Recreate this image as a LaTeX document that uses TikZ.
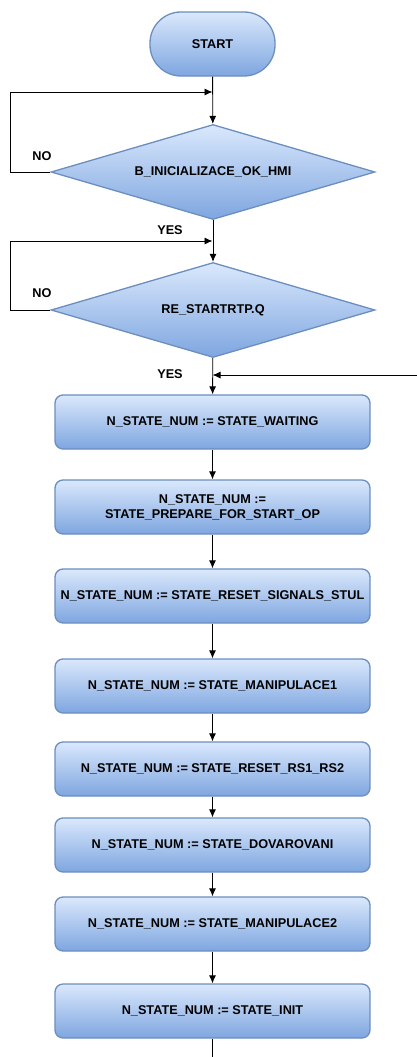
\documentclass[tikz,border=0pt]{standalone}
\usepackage{fontspec}
\setmainfont{Liberation Sans}
\usepackage{xcolor}
\usepackage{tikz}
\usetikzlibrary{positioning, arrows.meta, shapes.geometric}

\definecolor{boxtop}{HTML}{DAE8FC}
\definecolor{boxbot}{HTML}{7EA6E0}
\definecolor{boxline}{HTML}{6C8EBF}

\begin{document}
\begin{tikzpicture}[x=1pt, y=-1pt,
  font=\fontsize{12.7}{15}\selectfont\bfseries,
  blue fill/.style={draw=boxline, line width=1.3pt, top color=boxtop, bottom color=boxbot},
  statebox/.style={blue fill, rectangle, rounded corners=8pt, minimum width=315pt, minimum height=54pt, inner sep=1pt, align=center},
  decision/.style={blue fill, diamond, minimum width=324pt, minimum height=95pt, inner sep=0pt, aspect=3.4},
  terminal/.style={blue fill, rectangle, rounded corners=31pt, minimum width=125pt, minimum height=64pt},
  flow/.style={draw, line width=0.9pt, -{Latex[length=8pt, width=7pt]}},
  lbl/.style={inner sep=0pt}]
\useasboundingbox (0,0) rectangle (417,1057);

% start and the two waiting conditions
\node[terminal] (start) at (212.5,44) {START};
\node[decision] (hmi) at (213,172) {B\_INICIALIZACE\_OK\_HMI};
\node[decision] (rtp) at (213,310) {RE\_STARTRTP.Q};

% state assignments
\node[statebox] (waiting) at (212.5,422) {N\_STATE\_NUM := STATE\_WAITING};
\node[statebox] (prepare) at (212.5,507) {N\_STATE\_NUM :=\\STATE\_PREPARE\_FOR\_START\_OP};
\node[statebox] (signals) at (212.5,596) {N\_STATE\_NUM := STATE\_RESET\_SIGNALS\_STUL};
\node[statebox] (manip1) at (212.5,686) {N\_STATE\_NUM := STATE\_MANIPULACE1};
\node[statebox] (rsreset) at (212.5,769) {N\_STATE\_NUM := STATE\_RESET\_RS1\_RS2};
\node[statebox] (dovar) at (212.5,845) {N\_STATE\_NUM := STATE\_DOVAROVANI};
\node[statebox] (manip2) at (212.5,924) {N\_STATE\_NUM := STATE\_MANIPULACE2};
\node[statebox] (init) at (212.5,1011) {N\_STATE\_NUM := STATE\_INIT};

\coordinate (join1) at (212.5,92);
\coordinate (join2) at (212.5,241);
\coordinate (join3) at (212.5,375);
\coordinate (back) at (417,375);
\coordinate (down) at (212.5,1057);

% connectors
\draw[flow] (start) -- (hmi);
\draw[flow] (hmi.west) -- (10,172) |- (join1);
\draw[flow] (hmi) -- (rtp);
\draw[flow] (rtp.west) -- (10,310) |- (join2);
\draw[flow] (rtp) -- (waiting);
\draw[flow] (back) -- (join3);
\draw[flow] (waiting) -- (prepare);
\draw[flow] (prepare) -- (signals);
\draw[flow] (signals) -- (manip1);
\draw[flow] (manip1) -- (rsreset);
\draw[flow] (rsreset) -- (dovar);
\draw[flow] (dovar) -- (manip2);
\draw[flow] (manip2) -- (init);
\draw[line width=0.9pt] (init) -- (down);

\node[lbl] (no1) at (42,156) {NO};
\node[lbl] (yes1) at (170,230) {YES};
\node[lbl] (no2) at (42,293) {NO};
\node[lbl] (yes2) at (170,374) {YES};
\end{tikzpicture}
\end{document}
